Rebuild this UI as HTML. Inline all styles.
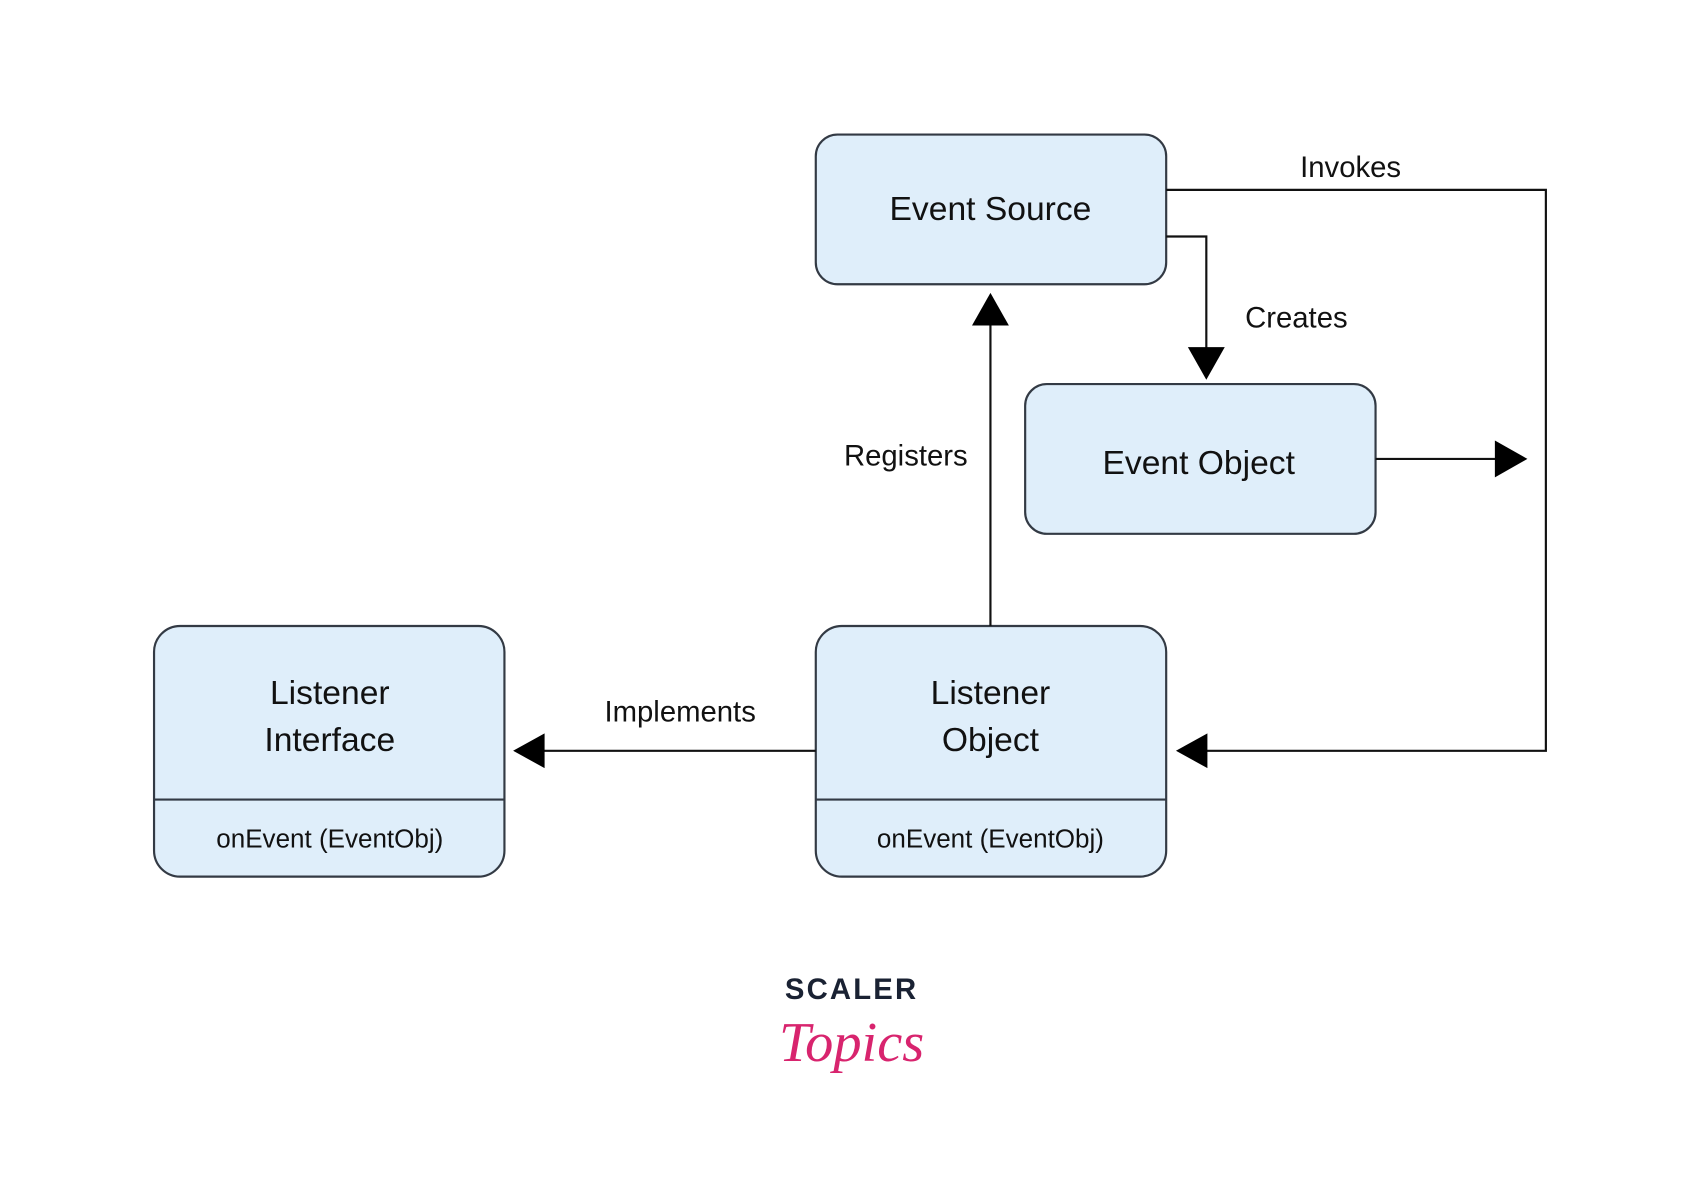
<!DOCTYPE html>
<html><head><meta charset="utf-8"><style>html,body{margin:0;padding:0;background:#fff}svg{display:block}</style></head>
<body>
<svg width="1701" height="1188" viewBox="0 0 1568 1095" preserveAspectRatio="none" xmlns="http://www.w3.org/2000/svg" font-family="'Liberation Sans', 'DejaVu Sans', sans-serif">
<rect width="1568" height="1095" fill="#fff"/>
<g fill="#dfeefa" stroke="#333a44" stroke-width="2">
<rect x="752" y="124" width="323" height="138" rx="20"/>
<rect x="945" y="354" width="323" height="138" rx="20"/>
<rect x="142" y="577" width="323" height="231" rx="24"/>
<rect x="752" y="577" width="323" height="231" rx="24"/>
<line x1="142" y1="737" x2="465" y2="737"/>
<line x1="752" y1="737" x2="1075" y2="737"/>
</g>
<g fill="none" stroke="#111" stroke-width="2">
<polyline points="1075,175 1425,175 1425,692 1110,692"/>
<polyline points="1075,218 1112,218 1112,322"/>
<line x1="913" y1="577" x2="913" y2="298"/>
<line x1="1268" y1="423" x2="1380" y2="423"/>
<line x1="752" y1="692" x2="500" y2="692"/>
</g>
<g fill="#000">
<polygon points="1084,692 1113,676 1113,708"/>
<polygon points="1112,350 1095,320 1129,320"/>
<polygon points="913,270 896,300 930,300"/>
<polygon points="1408,423 1378,406 1378,440"/>
<polygon points="473,692 502,676 502,708"/>
</g>
<g fill="#111" text-anchor="middle">
<text x="913" y="203" font-size="31">Event Source</text>
<text x="1105" y="437" font-size="31">Event Object</text>
<text x="304" y="649" font-size="31">Listener</text>
<text x="304" y="692" font-size="31">Interface</text>
<text x="913" y="649" font-size="31">Listener</text>
<text x="913" y="692" font-size="31">Object</text>
<text x="304" y="781" font-size="24">onEvent (EventObj)</text>
<text x="913" y="781" font-size="24">onEvent (EventObj)</text>
<text x="1245" y="163" font-size="27">Invokes</text>
<text x="1195" y="302" font-size="27">Creates</text>
<text x="835" y="429" font-size="27">Registers</text>
<text x="627" y="665" font-size="27">Implements</text>
<text x="785" y="921" font-size="27" font-weight="bold" fill="#1a2233" letter-spacing="2">SCALER</text>
<text x="785" y="978" font-size="52" font-style="italic" font-family="'Liberation Serif', serif" fill="#d8246e">Topics</text>
</g>
</svg>
</body></html>
